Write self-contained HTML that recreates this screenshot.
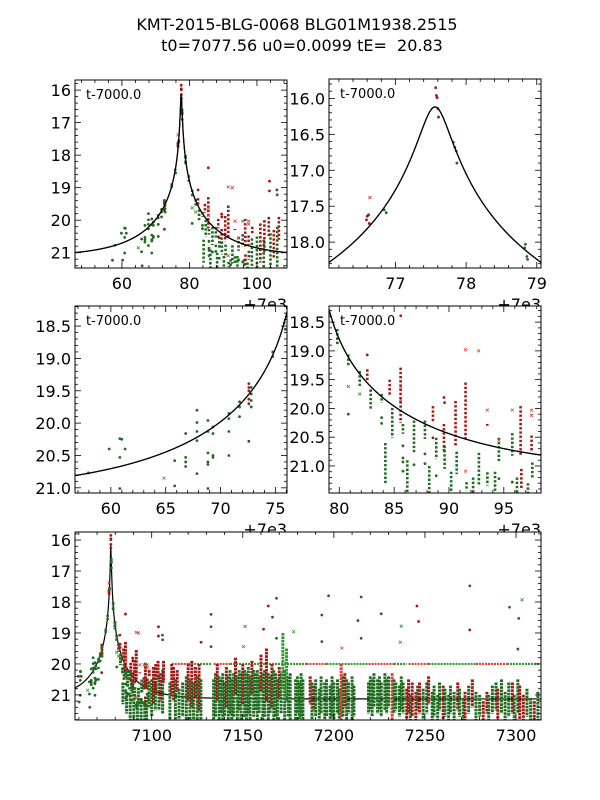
<!DOCTYPE html>
<html><head><meta charset="utf-8"><style>
body{margin:0;background:#fff}
svg{display:block}
text{font-family:"DejaVu Sans","Liberation Sans",sans-serif;fill:#000}
</style></head><body>
<svg id="chart" width="600" height="800" viewBox="0 0 600 800" xmlns="http://www.w3.org/2000/svg">
<rect width="600" height="800" fill="#fff"/>
<text x="297" y="30" font-size="16" text-anchor="middle">KMT-2015-BLG-0068 BLG01M1938.2515</text>
<text x="302" y="51" font-size="16" text-anchor="middle" xml:space="preserve">t0=7077.56 u0=0.0099 tE=  20.83</text>
</svg>
<script>
// model parameters (from title)
const modelT0 = [77.56];
const modelU0 = [0.0099];
const modelTE = [20.83];
const modelBase = [21.13];

// individual points: t-7000, mag, type (g=green dot, r=red dot, gx=green x, rx=red x)
const ptT = [57.94,59.85,60.82,60.82,60.82,64.85,65.82,65.82,66.82,66.82,66.82,66.82,67.85,67.85,67.85,67.85,67.85,68.85,68.85,68.85,68.85,68.85,68.85,69.31,69.31,69.31,69.31,70.76,70.76,70.76,70.76,71.73,71.73,71.73,72.58,72.58,72.58,72.58,72.58,72.58,72.8,72.8,72.8,72.8,74.76,74.76,75.8,75.9,
 77.57,77.58,77.59,77.6,77.61,77.82,77.84,77.86,77.87,76.60,76.59,76.62,76.63,76.64,76.84,76.87,78.84,78.83,78.86,78.87,
 80.82,80.82,81.86,82.55,83.86,83.86,85.8,85.8,85.8,85.8,85.59,85.59,86.81,87.81,87.81,88.54,88.84,89.54,89.6,91.51,91.51,93.49,94.55,95.77,95.77,97.53,97.53,94.55,85.6,
 57.2,60.2,61.0,61.3,66.0,106,
 92.7,103.7,103.7,105.9,127.1,132.6,132.6,132.6,151.3,150.4,161.4,164,166.3,168.5,168.5,177.9,193.4,197.1,193.4,204.4,213.2,215,215,226,237,236.5,245.6,246.5,274.6,274.6,296.4,301.5,303.3,301];
const ptM = [20.77,20.40,20.24,20.53,21.01,20.85,20.58,20.97,20.16,20.53,20.60,20.67,19.80,19.99,20.13,20.27,20.78,19.96,20.13,20.46,20.60,20.64,21.01,20.06,20.16,20.50,20.53,19.85,19.93,20.13,20.50,19.67,19.75,19.90,19.39,19.45,19.50,19.63,19.70,20.28,19.45,19.55,19.65,19.75,18.90,18.97,18.45,18.55,
 15.85,15.96,15.99,16.14,16.26,16.61,16.68,16.73,16.90,17.64,17.69,17.62,17.74,17.38,17.55,17.59,18.03,18.08,18.20,18.24,
 20.10,19.62,19.75,19.07,20.16,20.26,20.65,20.86,20.93,21.09,19.63,19.85,20.98,20.79,20.96,20.51,21.17,19.81,19.90,18.98,21.09,20.03,20.55,20.03,21.28,20.03,20.12,21.22,18.39,
 21.23,21.23,20.25,20.40,21.40,19.22,
 19.0,18.8,19.1,19.07,19.3,18.4,18.8,19.44,18.79,19.44,18.88,18.13,18.49,17.88,19.17,18.96,18.42,17.8,19.28,19.49,18.6,17.84,19.17,18.38,18.78,19.3,18.13,18.63,17.48,18.9,18.17,18.53,17.93,19.52];
const ptC = ['g','g','g','g','g','gx','g','g','g','g','g','g','g','g','g','g','g','g','g','g','g','g','g','g','g','g','g','g','g','g','g','g','g','g','r','r','r','r','r','r','g','g','g','g','g','g','g','g',
 'r','r','r','r','r','g','g','g','g','r','r','r','r','rx','g','g','g','g','g','g',
 'g','gx','gx','r','g','g','g','g','g','g','rx','rx','g','g','g','r','g','r','r','rx','rx','rx','rx','gx','g','rx','rx','g','r',
 'g','g','g','g','g','g',
 'rx','r','r','g','r','g','g','g','gx','rx','r','r','g','g','g','gx','g','g','g','rx','g','g','g','g','gx','gx','r','r','g','r','g','g','gx','g'];

// nightly columns of measurements: t-7000, brightest mag, faintest mag, type
const colT = [79.82,80.82,81.86,82.55,82.86,83.86,84.59,84.83,85.59,85.8,86.81,87.81,88.54,88.84,89.54,89.6,90.6,90.7,91.51,91.6,92.73,93.49,93.5,94.55,95.77,96.53,96.6,97.53,97.6,
 84.2,86.2,88.2,90.2,92.2,94.2,96.2,97.2,
 98.5,98.6,100,101,102,102.2,103.5,104,105,106,106.5,
 110,111,112,113,114,115,117,119,120,121,122,123,124,125,126,127,
 134,135,136,137,138,139,140,141,142,143,144,145,146,147,148,149,150,151,152,153,154,155,156,157,158,159,160,161,162,163,164,165,166,167,168,169,170,171,172,173,174,175,176,179,180,181,182,183,
 187,188,189,190,192,193,195,196,198,199,200,202,203,204,205,206,207,208,210,211,
 219,220,221,222,224,225,226,228,229,230,232,233,234,236,237,238,
 240,241,242,243,245,246,247,
 249,251,252,254,255,257,258,260,261,263,264,266,268,269,271,272,274,276,278,280,282,284,285,287,289,290,292,294,296,298,299,301,302,304,306,308,310,312];
const colTop = [18.62,19.06,19.35,19.32,19.67,19.75,19.5,19.99,19.29,20.27,20.21,20.21,19.96,20.51,20.27,20.65,19.87,20.75,19.55,21.28,20.77,20.27,21.11,20.51,20.43,19.96,21.05,20.47,20.94,
 20.6,20.9,21.0,21.1,21.2,21.1,21.2,21.3,
 20.56,20.2,20.5,20.1,20.6,20.0,19.9,20.4,20.3,20.2,19.9,
 20.6,20.0,20.1,20.5,20.2,20.8,20.6,20.4,20.0,20.5,19.9,20.6,20.1,20.4,20.0,20.5,
 20.5,20.3,20.0,20.4,20.5,20.3,20.6,20.1,20.4,20.2,20.5,20.3,19.8,20.4,20.2,20.3,20.0,20.2,20.3,20.1,20.4,19.9,20.2,20.3,20.2,20.4,19.7,20.3,20.2,19.5,20.3,20.4,20.0,20.2,20.3,20.5,20.1,20.3,19.0,20.2,19.5,20.4,20.3,20.5,20.4,20.6,20.3,20.5,
 20.4,20.6,20.7,20.5,20.8,20.4,20.6,20.5,20.7,20.4,20.6,20.5,20.8,20.0,20.4,20.3,20.5,20.6,20.4,20.7,
 20.6,20.4,20.5,20.3,20.5,20.4,20.6,20.3,20.5,20.4,20.3,20.5,20.6,20.7,20.4,20.6,
 20.8,20.5,21.0,20.6,20.9,20.7,20.6,
 20.8,20.6,20.4,20.9,20.7,21.0,20.6,20.7,20.8,21.0,20.7,20.9,20.6,20.8,21.1,20.9,20.7,20.5,20.9,21.0,21.2,20.9,21.0,20.7,20.6,20.8,20.5,20.9,20.6,20.6,21.0,20.5,20.7,21.0,20.8,21.1,21.2,20.9];
const colBot = [18.88,19.26,19.61,19.52,20.03,19.9,19.78,20.51,20.25,20.44,20.76,20.53,20.25,20.88,20.76,21.05,20.65,21.14,20.53,21.43,21.33,20.3,21.34,20.94,20.82,20.82,21.4,20.76,21.22,
 21.3,21.6,21.8,21.8,21.8,21.8,21.8,21.8,
 21.4,20.4,21.7,21.3,21.5,21.0,20.5,21.5,21.2,21.6,20.6,
 21.8,21.0,21.2,21.8,20.9,21.8,21.7,21.8,21.2,21.8,21.4,21.8,21.1,21.8,21.5,21.8,
 21.8,21.7,21.2,21.8,21.6,21.8,21.7,21.4,21.8,21.6,21.8,21.7,21.0,21.8,21.5,21.8,21.3,21.7,21.8,21.6,21.8,21.0,21.7,21.5,21.8,21.6,20.9,21.8,21.7,21.2,21.8,21.6,21.4,21.8,21.7,21.8,21.1,21.6,20.8,21.8,21.2,21.7,21.8,21.8,21.6,21.8,21.7,21.8,
 21.3,21.8,21.5,21.7,21.8,21.6,21.8,21.7,21.8,21.7,21.8,21.6,21.8,21.8,21.7,21.4,21.8,21.6,21.8,21.7,
 21.6,21.5,21.7,21.4,21.6,21.5,21.7,21.5,21.6,21.4,21.8,21.6,21.5,21.7,21.5,21.6,
 21.8,21.6,21.8,21.7,21.8,21.5,21.6,
 21.8,21.6,21.3,21.8,21.7,21.8,21.5,21.8,21.7,21.8,21.6,21.8,21.5,21.7,21.8,21.8,21.6,21.4,21.8,21.7,21.8,21.6,21.8,21.6,21.5,21.8,21.6,21.8,21.7,21.6,21.8,21.6,21.8,21.8,21.7,21.8,21.8,21.8];
const colC = ['g','g','g','r','g','g','r','g','r','g','g','g','r','g','r','g','r','g','r','g','g','r','g','g','g','r','r','r','g',
 'g','g','g','g','g','g','g','g',
 'g','r','g','r','g','r','r','g','r','g','r',
 'g','r','r','g','r','g','g','g','r','g','r','g','r','g','r','g',
 'g','g','r','g','g','g','g','r','g','g','g','g','r','g','g','g','r','g','g','g','g','r','g','g','g','g','r','g','g','r','g','g','r','g','g','g','r','g','gx','g','gx','g','g','g','g','g','g','g',
 'r','g','r','g','g','g','g','g','g','g','g','g','g','rx','g','r','g','g','g','g',
 'g','g','g','g','g','g','g','g','g','g','rx','g','g','g','g','g',
 'r','r','g','r','r','g','r',
 'g','g','r','g','g','g','g','r','g','g','g','g','r','g','g','r','g','r','g','g','r','r','g','g','g','r','g','g','g','r','g','g','r','r','g','g','r','g'];

// saturation band at mag 20.0: start, end, type
const bandStart = [111,120,134,143,185,196,219,233,241,252,278,295];
const bandEnd   = [120,133,143,185,196,219,233,240,252,278,295,313];
const bandC     = ['r','g','r','g','r','g','r','g','r','g','r','g'];
const bandMag = [20.0];

// axis tick labels
const p1XTicks=[60,80,100], p2XTicks=[77,78,79], p3XTicks=[60,65,70,75], p4XTicks=[80,85,90,95], p5XTicks=[100,150,200,250,300];
const p5XLabels=['7100','7150','7200','7250','7300'];
const p1YTicks=[16,17,18,19,20,21], p2YTicks=[16.0,16.5,17.0,17.5,18.0], p34YTicks=[18.5,19.0,19.5,20.0,20.5,21.0];

const NS='http://www.w3.org/2000/svg';
const svg=document.getElementById('chart');
const COL={g:'#1f6b1f',r:'#a01818',gx:'#2f9a2f',rx:'#e03a3a'};
function mk(tag,attrs,parent){const e=document.createElementNS(NS,tag);for(const k in attrs)e.setAttribute(k,attrs[k]);(parent||svg).appendChild(e);return e;}

function magModel(t){
  const u0=modelU0[0], tau=(t-modelT0[0])/modelTE[0];
  const u=Math.sqrt(u0*u0+tau*tau);
  const A=(u*u+2)/(u*Math.sqrt(u*u+4));
  return modelBase[0]-2.5*Math.log10(A);
}

function panel(id,bx,by,bw,bh,t0,t1,m0,m1,xt,xl,xminor,yt,ydec,yminor,offset,dense){
  const g=mk('g',{});
  
  
  const X=t=>bx+(t-t0)/(t1-t0)*bw;
  const Y=m=>by+(m-m0)/(m1-m0)*bh;
  mk('rect',{x:bx,y:by,width:bw,height:bh,fill:'#fff'},g);
  const cid='clip-'+id;
  const cp=mk('clipPath',{id:cid},g);
  mk('rect',{x:bx,y:by,width:bw,height:bh},cp);
  const plot=mk('g',{'clip-path':'url(#'+cid+')'},g);
  // model curve first (data drawn over it)
  let d='';
  const N=600;
  for(let k=0;k<=N;k++){const t=t0+(t1-t0)*k/N;d+=(k?'L':'M')+X(t).toFixed(2)+','+Y(magModel(t)).toFixed(2);}
  const mp=mk('path',{d:d,fill:'none',stroke:'#000','stroke-width':1.2},plot);
  
  
  for(let i=0;i<bandStart.length;i++){
    const l=mk('line',{x1:X(bandStart[i]),x2:X(bandEnd[i]),y1:Y(bandMag[0]),y2:Y(bandMag[0]),stroke:bandC[i]=='r'?COL.rx:COL.gx,'stroke-width':2.2,'stroke-dasharray':'2 1'},plot);
    
    
  }
  for(let i=0;i<colT.length;i++){
    if(colT[i]<t0-1||colT[i]>t1+1)continue;
    const c=colC[i];
    const l=mk('line',{x1:X(colT[i]),x2:X(colT[i]),y1:Y(colTop[i]),y2:Y(colBot[i])+0.1,stroke:COL[c],'stroke-width':dense?3:2.6,'stroke-dasharray':dense?'2.6 0.8':'2.4 1.8'},plot);
    
    
  }
  for(let i=0;i<ptT.length;i++){
    const x=X(ptT[i]),y=Y(ptM[i]),c=ptC[i];
    let e;
    if(c.length>1){
      e=mk('path',{d:`M${x-1.5},${y-1.5}L${x+1.5},${y+1.5}M${x-1.5},${y+1.5}L${x+1.5},${y-1.5}`,stroke:COL[c],'stroke-width':0.8,fill:'none'},plot);
    } else {
      e=mk('circle',{cx:x,cy:y,r:1.4,fill:COL[c]},plot);
    }
    
    
  }
  if(!dense){
    // in sparse panels the model line sits on top
    const mp2=mk('path',{d:d,fill:'none',stroke:'#000','stroke-width':1.2},plot);
    
    
  }
  mk('rect',{x:bx,y:by,width:bw,height:bh,fill:'none',stroke:'#000','stroke-width':1},g);
  const tk=mk('g',{stroke:'#000','stroke-width':0.8},g);
  for(let v=Math.ceil(t0/xminor)*xminor;v<=t1;v+=xminor){
    const x=X(v);
    const major=xt.some(q=>Math.abs(q-v)<1e-6);
    const L=major?6:3;
    mk('line',{x1:x,x2:x,y1:by+bh,y2:by+bh-L},tk);
    mk('line',{x1:x,x2:x,y1:by,y2:by+L},tk);
  }
  for(let v=Math.ceil(m0/yminor-1e-6)*yminor;v<=m1+1e-9;v+=yminor){
    const y=Y(v);
    const major=yt.some(q=>Math.abs(q-v)<1e-6);
    const L=major?6:3;
    mk('line',{x1:bx,x2:bx+L,y1:y,y2:y},tk);
    mk('line',{x1:bx+bw,x2:bx+bw-L,y1:y,y2:y},tk);
  }
  xt.forEach((v,i)=>{
    const t=mk('text',{x:X(v),y:by+bh+21,'font-size':16,'text-anchor':'middle'},g);
    t.textContent=xl?xl[i]:String(v);
    
    
  });
  yt.forEach(v=>{
    const t=mk('text',{x:bx-4,y:Y(v)+6,'font-size':16,'text-anchor':'end'},g);
    t.textContent=v.toFixed(ydec);
    
    
  });
  if(!dense){
    const lab=mk('text',{x:bx+11,y:by+19,'font-size':13},g);
    lab.textContent='t-7000.0';
    
    
  }
  if(offset){
    const o=mk('text',{x:bx+bw,y:by+bh+42,'font-size':16,'text-anchor':'end'},g);
    o.textContent='+7e3';
    
    
  }
}

panel('panel-full-event',75,80,212,188,46.1,108.9,15.69,21.47,p1XTicks,null,4,p1YTicks,0,0.2,true,false);
panel('panel-peak',329,79,212,189,76.06,79.06,15.73,18.36,p2XTicks,null,0.2,p2YTicks,1,0.1,true,false);
panel('panel-rising',75,306,212,187,56.73,76.06,18.19,21.08,p3XTicks,null,1,p34YTicks,1,0.1,true,false);
panel('panel-falling',329,306,212,187,79.06,98.39,18.22,21.47,p4XTicks,null,1,p34YTicks,1,0.1,true,false);
panel('panel-season',75,532,466,188,57.9,313.7,15.74,21.81,p5XTicks,p5XLabels,10,p1YTicks,0,0.2,false,true);
</script>
</body></html>
